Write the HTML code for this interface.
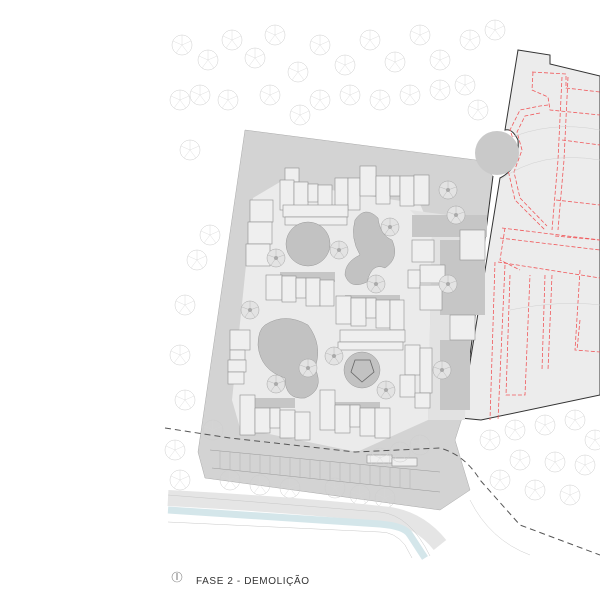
<!DOCTYPE html>
<html><head><meta charset="utf-8"><style>
html,body{margin:0;padding:0;background:#fff;width:600px;height:600px;overflow:hidden}
svg{display:block}
.b{fill:#efefef;stroke:#8f8f8f;stroke-width:.6}
.r{fill:none;stroke:#f0585b;stroke-width:.8;stroke-dasharray:4 2}
</style></head><body>
<svg width="600" height="600" viewBox="0 0 600 600" xmlns="http://www.w3.org/2000/svg">
<defs>
<g id="tr"><circle r="10" fill="none" stroke="#cdcdcd" stroke-width=".5"/><path d="M0 0L0-10M0 0L9-4M0 0L6 8M0 0L-6 8M0 0L-9-4" stroke="#d6d6d6" stroke-width=".4"/></g>
<g id="tg"><circle r="9" fill="#e3e3e3" stroke="#a4a4a4" stroke-width=".5"/><path d="M0 0L0-9M0 0L8-3M0 0L5 7M0 0L-5 7M0 0L-8-3" stroke="#b0b0b0" stroke-width=".4"/><circle r="2" fill="#aaa"/></g>
</defs>
<g>
<use href="#tr" x="182" y="45"/><use href="#tr" x="208" y="60"/><use href="#tr" x="232" y="40"/><use href="#tr" x="255" y="58"/><use href="#tr" x="275" y="35"/><use href="#tr" x="298" y="72"/><use href="#tr" x="320" y="45"/><use href="#tr" x="345" y="65"/><use href="#tr" x="370" y="40"/><use href="#tr" x="395" y="62"/><use href="#tr" x="420" y="35"/><use href="#tr" x="440" y="60"/><use href="#tr" x="470" y="40"/><use href="#tr" x="495" y="30"/><use href="#tr" x="200" y="95"/><use href="#tr" x="228" y="100"/><use href="#tr" x="180" y="100"/><use href="#tr" x="320" y="100"/><use href="#tr" x="350" y="95"/><use href="#tr" x="380" y="100"/><use href="#tr" x="410" y="95"/><use href="#tr" x="440" y="90"/><use href="#tr" x="465" y="85"/><use href="#tr" x="478" y="110"/><use href="#tr" x="270" y="95"/><use href="#tr" x="300" y="115"/><use href="#tr" x="190" y="150"/><use href="#tr" x="210" y="235"/><use href="#tr" x="197" y="260"/><use href="#tr" x="185" y="305"/><use href="#tr" x="180" y="355"/><use href="#tr" x="185" y="400"/><use href="#tr" x="175" y="450"/><use href="#tr" x="180" y="480"/><use href="#tr" x="490" y="440"/><use href="#tr" x="515" y="430"/><use href="#tr" x="545" y="425"/><use href="#tr" x="575" y="420"/><use href="#tr" x="595" y="440"/><use href="#tr" x="520" y="460"/><use href="#tr" x="555" y="462"/><use href="#tr" x="585" y="465"/><use href="#tr" x="535" y="490"/><use href="#tr" x="570" y="495"/><use href="#tr" x="500" y="480"/>
</g>
<path d="M518 50L550 55L550 64L600 76L600 395L481 420L461 418L500 178Q520 168 518 140Q512 128 505 130Z" fill="#ececec" stroke="#333" stroke-width="1"/>
<g class="r">
<path d="M532 72L566 74L566 88L600 92M533 72L532 90L548 97L550 110L600 115"/>
<path d="M562 77L558 160L552 230M568 77L564 160L558 230"/>
<path d="M548 105L540 106L520 110L510 130L517 150L508 170L515 200L545 230M540 113L525 116L517 132L522 150L514 172L520 198L547 226"/>
<path d="M502 228L600 240M500 238L600 250M498 262L600 278M505 228L500 260L520 270"/>
<path d="M495 262L490 420M505 265L498 420M510 275L506 395L525 395L530 275M545 275L542 370M552 275L548 370M580 270L575 350L600 352M580 320L577 350"/>
<path d="M562 140L600 145M556 200L600 205M555 236L600 240"/>
</g>
<g fill="none" stroke="#d0d0d0" stroke-width=".5"><path d="M500 180Q540 150 600 160M505 140Q550 120 600 130M510 310Q560 300 600 305"/></g>
<path d="M245 130L476 160L493 176L462 418L455 440L470 490L440 510L205 478L198 452Z" fill="#d3d3d3" stroke="#aaa" stroke-width=".5"/>
<circle cx="497" cy="153" r="22" fill="#c9c9c9"/>
<path d="M493 176L462 418" stroke="#333" stroke-width="1"/>
<path d="M253 198L280 182L420 204L432 232L428 420L357 452L240 428L232 400Z" fill="#ebebeb"/>
<path d="M410 210L470 218L465 420L428 420L432 232Z" fill="#e2e2e2"/>
<g fill="#c6c6c6">
<rect x="412" y="215" width="75" height="22"/><rect x="440" y="240" width="45" height="75"/><rect x="440" y="340" width="30" height="70"/><rect x="280" y="272" width="55" height="10"/><rect x="345" y="295" width="55" height="10"/><rect x="255" y="398" width="40" height="10"/><rect x="335" y="402" width="45" height="10"/>
</g>
<g class="b">
<rect x="285" y="168" width="14" height="14"/><rect x="280" y="180" width="14" height="30"/><rect x="294" y="182" width="14" height="28"/><rect x="308" y="184" width="10" height="18"/><rect x="318" y="185" width="14" height="25"/><rect x="335" y="178" width="13" height="32"/><rect x="348" y="178" width="12" height="32"/>
<rect x="360" y="166" width="16" height="30"/><rect x="376" y="176" width="14" height="28"/><rect x="390" y="176" width="10" height="20"/><rect x="400" y="176" width="14" height="30"/><rect x="414" y="175" width="15" height="30"/>
<rect x="250" y="200" width="23" height="22"/><rect x="248" y="222" width="24" height="22"/><rect x="246" y="244" width="24" height="22"/>
<rect x="283" y="205" width="65" height="12"/><rect x="285" y="217" width="62" height="8"/>
<rect x="266" y="275" width="16" height="25"/><rect x="282" y="276" width="14" height="26"/><rect x="296" y="278" width="10" height="20"/><rect x="306" y="278" width="14" height="28"/><rect x="320" y="280" width="14" height="26"/>
<rect x="336" y="296" width="15" height="28"/><rect x="351" y="298" width="15" height="28"/><rect x="366" y="298" width="10" height="20"/><rect x="376" y="300" width="14" height="28"/><rect x="390" y="300" width="14" height="30"/>
<rect x="412" y="240" width="22" height="22"/><rect x="420" y="265" width="25" height="18"/><rect x="408" y="270" width="12" height="18"/><rect x="420" y="285" width="22" height="25"/>
<rect x="230" y="330" width="20" height="20"/><rect x="230" y="350" width="15" height="10"/><rect x="228" y="360" width="18" height="12"/><rect x="228" y="372" width="16" height="12"/>
<rect x="340" y="330" width="65" height="12"/><rect x="338" y="342" width="65" height="8"/>
<rect x="405" y="345" width="15" height="30"/><rect x="400" y="375" width="15" height="22"/><rect x="420" y="348" width="12" height="45"/><rect x="415" y="393" width="15" height="15"/>
<rect x="240" y="395" width="15" height="40"/><rect x="255" y="408" width="15" height="25"/><rect x="270" y="408" width="10" height="20"/><rect x="280" y="410" width="15" height="28"/><rect x="295" y="412" width="15" height="28"/>
<rect x="320" y="390" width="15" height="40"/><rect x="335" y="405" width="15" height="28"/><rect x="350" y="405" width="10" height="22"/><rect x="360" y="408" width="15" height="28"/><rect x="375" y="408" width="15" height="30"/>
<rect x="460" y="230" width="25" height="30"/><rect x="450" y="315" width="25" height="25"/>
<rect x="367" y="455" width="25" height="8"/><rect x="392" y="458" width="25" height="8"/>
</g>
<circle cx="308" cy="244" r="22" fill="#c2c2c2" stroke="#999" stroke-width=".5"/>
<path d="M355 220Q365 205 378 218Q380 235 392 240Q400 258 385 268Q372 262 367 282Q350 290 345 275Q345 262 360 255Q350 238 355 220Z" fill="#c2c2c2" stroke="#999" stroke-width=".5"/>
<path d="M265 325Q285 312 308 325Q323 345 315 368Q325 390 305 398Q285 400 285 378Q260 370 258 345Q258 330 265 325Z" fill="#c2c2c2" stroke="#999" stroke-width=".5"/>
<circle cx="362" cy="370" r="18" fill="#c2c2c2" stroke="#999" stroke-width=".5"/>
<path d="M355 360L370 360L374 372L362 382L351 372Z" fill="none" stroke="#666" stroke-width=".8"/>
<use href="#tg" x="339" y="250"/><use href="#tg" x="390" y="227"/><use href="#tg" x="376" y="284"/><use href="#tg" x="276" y="258"/><use href="#tg" x="250" y="310"/><use href="#tg" x="334" y="356"/><use href="#tg" x="276" y="384"/><use href="#tg" x="386" y="390"/><use href="#tg" x="308" y="368"/><use href="#tg" x="448" y="284"/><use href="#tg" x="442" y="370"/><use href="#tg" x="448" y="190"/><use href="#tg" x="456" y="215"/>
<use href="#tr" x="213" y="430"/><use href="#tr" x="420" y="445"/><use href="#tr" x="400" y="452"/><use href="#tr" x="380" y="458"/><use href="#tr" x="335" y="488"/><use href="#tr" x="360" y="495"/><use href="#tr" x="385" y="498"/><use href="#tr" x="230" y="480"/><use href="#tr" x="260" y="485"/><use href="#tr" x="290" y="488"/>
<path d="M210 450L440 472M212 468L440 492" stroke="#999" stroke-width=".5"/>
<g stroke="#aaa" stroke-width=".4"><path d="M220 451V469M230 452V470M240 453V471M250 454V472M260 455V473M270 456V474M280 457V475M290 458V476M300 459V477M310 460V478M320 461V479M330 462V480M340 463V481M350 464V482M360 465V483M370 466V484M380 467V485M390 468V486M400 469V487M410 470V488"/></g>
<path d="M168 498Q300 505 390 515Q420 520 440 545" fill="none" stroke="#e5e5e5" stroke-width="16"/>
<path d="M168 510L380 524Q405 526 410 535L425 558" fill="none" stroke="#d4e6ea" stroke-width="7"/>
<path d="M168 495L380 512Q410 515 430 556M168 522L380 532Q395 532 405 545L412 558" fill="none" stroke="#c8c8c8" stroke-width=".5"/>
<path d="M165 428L230 438L355 452L440 448Q465 455 480 480L520 525L600 555" fill="none" stroke="#555" stroke-width="1" stroke-dasharray="6 4"/>
<path d="M470 500Q490 540 530 555" fill="none" stroke="#ccc" stroke-width=".5"/>
<circle cx="177" cy="577" r="5" fill="none" stroke="#888" stroke-width=".6"/>
<path d="M177 573V580" stroke="#555" stroke-width=".8"/>
<text x="196" y="584" font-family="Liberation Sans, sans-serif" font-size="10" fill="#333" letter-spacing=".6">FASE 2 - DEMOLIÇÃO</text>
</svg>
</body></html>
